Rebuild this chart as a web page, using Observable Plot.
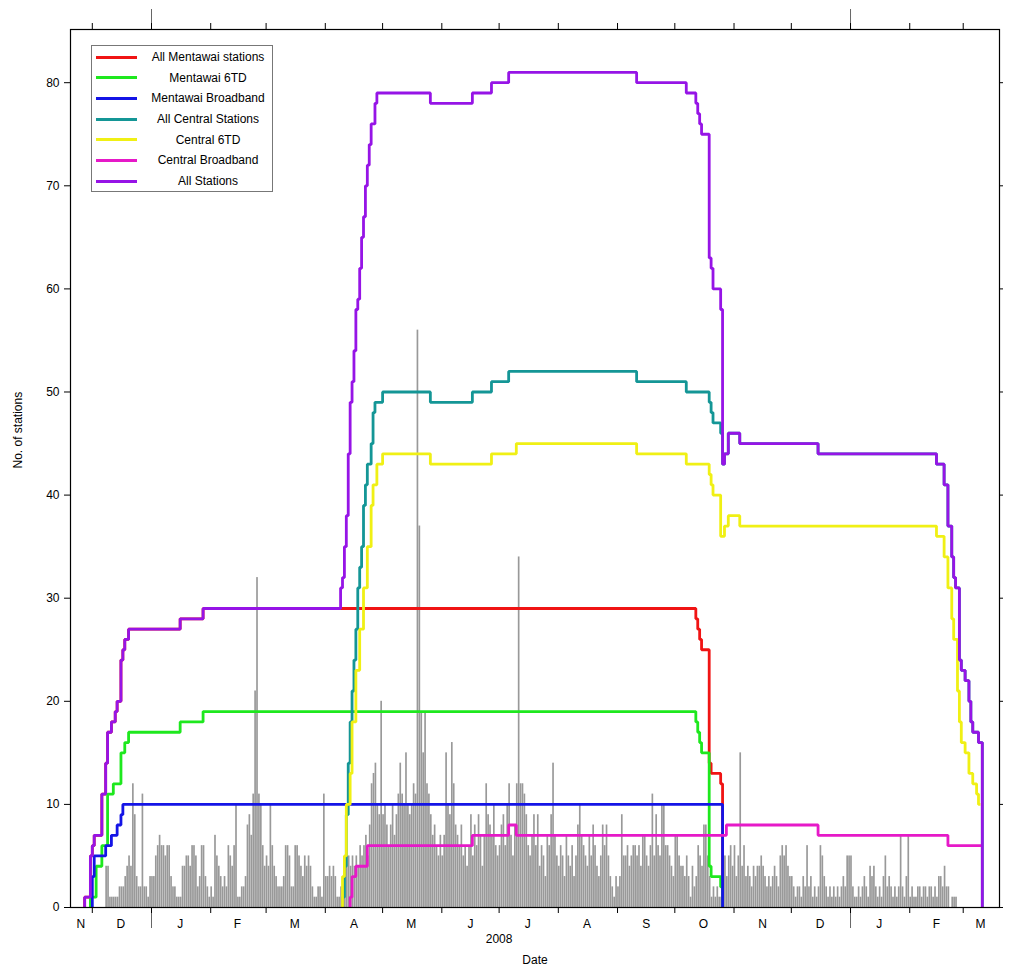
<!DOCTYPE html>
<html><head><meta charset="utf-8">
<script src="https://cdn.jsdelivr.net/npm/d3@7"></script>
<script src="https://cdn.jsdelivr.net/npm/@observablehq/plot@0.6"></script>
<style>
body{margin:0;background:#fff;font-family:"Liberation Sans",Arial,sans-serif;}
#wrap{position:relative;width:1015px;height:968px;}
#legend{position:absolute;left:91px;top:45px;width:182px;height:147px;border:1px solid #777;background:#fff;box-sizing:border-box;}
.row{position:absolute;left:0;width:100%;height:0;}
.sw{position:absolute;left:4px;top:-1.5px;width:41px;height:3px;}
.lab{position:absolute;left:52px;right:0;top:-8px;text-align:center;font-size:12px;line-height:16px;color:#000;white-space:nowrap;}
</style></head><body><div id="wrap"></div>
<script>
// ---- data ----
const seriesNames = ["All Mentawai stations","Mentawai 6TD","Mentawai Broadband","All Central Stations","Central 6TD","Central Broadband","All Stations"];
const seriesColors = ["#f01414","#1ee81e","#1414e6","#149696","#f0f014","#e619c8","#9614e6"];

const mentawaiAllDates = ["2007-11-27","2007-11-27","2007-11-30","2007-12-01","2007-12-02","2007-12-06","2007-12-08","2007-12-09","2007-12-11","2007-12-13","2007-12-14","2007-12-16","2007-12-17","2007-12-18","2007-12-20","2008-01-16","2008-01-28","2008-10-12","2008-10-13","2008-10-14","2008-10-15","2008-10-19","2008-10-20","2008-10-25","2008-10-26"];
const mentawaiAllVals = [0,1,5,6,7,11,14,17,18,19,20,24,25,26,27,28,29,28,27,26,25,14,13,12,0];

const mentawai6tdDates = ["2007-11-30","2007-11-30","2007-12-03","2007-12-06","2007-12-09","2007-12-12","2007-12-16","2007-12-18","2007-12-20","2008-01-16","2008-01-28","2008-10-12","2008-10-13","2008-10-14","2008-10-15","2008-10-19","2008-10-20","2008-10-25","2008-10-26"];
const mentawai6tdVals = [0,1,4,6,11,12,15,16,17,18,19,18,17,16,15,4,3,2,0];

const mentawaiBbDates = ["2007-12-01","2007-12-01","2007-12-02","2007-12-08","2007-12-11","2007-12-14","2007-12-16","2007-12-17","2008-10-26"];
const mentawaiBbVals = [0,3,5,6,7,8,9,10,0];

const centralAllDates = ["2008-04-10","2008-04-10","2008-04-11","2008-04-12","2008-04-13","2008-04-14","2008-04-15","2008-04-16","2008-04-17","2008-04-18","2008-04-19","2008-04-20","2008-04-21","2008-04-22","2008-04-23","2008-04-25","2008-04-26","2008-04-27","2008-05-01","2008-05-26","2008-06-17","2008-06-27","2008-07-06","2008-09-11","2008-10-07","2008-10-19","2008-10-20","2008-10-21","2008-10-25","2008-10-26","2008-10-27","2008-10-29","2008-11-04","2008-12-15","2009-02-15","2009-02-19","2009-02-21","2009-02-23","2009-02-24","2009-02-25","2009-02-27","2009-02-28","2009-03-02","2009-03-04","2009-03-05","2009-03-06","2009-03-09","2009-03-11"];
const centralAllVals = [0,1,4,9,14,18,21,24,27,31,33,35,39,41,43,45,48,49,50,49,50,51,52,51,50,49,48,47,46,43,44,46,45,44,43,41,37,34,32,31,24,23,22,20,18,17,16,0];

const central6tdDates = ["2008-04-10","2008-04-10","2008-04-11","2008-04-12","2008-04-14","2008-04-15","2008-04-17","2008-04-19","2008-04-21","2008-04-23","2008-04-25","2008-04-26","2008-04-28","2008-05-01","2008-05-26","2008-06-27","2008-07-10","2008-09-11","2008-10-07","2008-10-19","2008-10-20","2008-10-21","2008-10-25","2008-10-27","2008-10-29","2008-11-04","2009-02-15","2009-02-19","2009-02-21","2009-02-23","2009-02-24","2009-02-26","2009-02-27","2009-02-28","2009-03-02","2009-03-04","2009-03-06","2009-03-08","2009-03-09","2009-03-10"];
const central6tdVals = [0,3,5,10,13,18,23,27,31,35,39,41,43,44,43,44,45,44,43,42,41,40,36,37,38,37,36,34,31,28,26,21,18,16,15,13,12,11,10,10];

const centralBbDates = ["2008-04-14","2008-04-14","2008-04-15","2008-04-17","2008-04-23","2008-06-17","2008-07-06","2008-07-10","2008-10-28","2008-12-15","2009-02-21","2009-03-11"];
const centralBbVals = [0,1,3,4,6,7,8,7,8,7,6,6];

const allStationsDates = ["2007-11-27","2007-11-27","2007-11-30","2007-12-01","2007-12-02","2007-12-06","2007-12-08","2007-12-09","2007-12-11","2007-12-13","2007-12-14","2007-12-16","2007-12-17","2007-12-18","2007-12-20","2008-01-16","2008-01-28","2008-04-09","2008-04-10","2008-04-11","2008-04-12","2008-04-13","2008-04-14","2008-04-15","2008-04-16","2008-04-17","2008-04-18","2008-04-19","2008-04-20","2008-04-21","2008-04-22","2008-04-23","2008-04-24","2008-04-25","2008-04-27","2008-04-28","2008-05-26","2008-06-17","2008-06-27","2008-07-06","2008-09-11","2008-10-07","2008-10-12","2008-10-13","2008-10-14","2008-10-15","2008-10-19","2008-10-20","2008-10-21","2008-10-25","2008-10-26","2008-10-27","2008-10-29","2008-11-04","2008-12-15","2009-02-15","2009-02-19","2009-02-21","2009-02-23","2009-02-24","2009-02-25","2009-02-27","2009-02-28","2009-03-02","2009-03-04","2009-03-05","2009-03-06","2009-03-09","2009-03-11"];
const allStationsVals = [0,1,5,6,7,11,14,17,18,19,20,24,25,26,27,28,29,31,32,35,38,44,49,51,54,58,59,62,65,67,70,72,74,76,78,79,78,79,80,81,80,79,78,77,76,75,63,62,60,58,43,44,46,45,44,43,41,37,34,32,31,24,23,22,20,18,17,16,0];

// daily grey bars: first bar date, then one value per day
const barStart = "2007-12-08";
const barCounts = [
  4,4,1,1,1,1,1,2,2,2,3,4,5,4,12,9,3,2,2,11,2,2,1,3,                 // Dec 2007 (from 8th)
  3,3,5,6,7,6,6,5,6,6,3,2,2,1,1,1,4,4,5,5,4,6,6,5,2,3,6,6,3,2,1,     // Jan 2008
  2,1,7,5,4,3,2,3,2,6,5,4,6,10,1,1,2,2,3,8,9,7,11,21,32,11,10,6,4,   // Feb
  5,4,10,6,4,3,2,2,2,3,6,6,5,2,2,6,6,5,4,3,5,4,5,4,2,1,1,2,2,1,11,   // Mar
  3,3,4,3,4,3,1,1,2,1,4,5,5,4,5,4,5,4,6,5,6,7,5,8,12,13,14,10,9,20,  // Apr
  9,10,8,6,8,10,7,9,11,14,11,10,15,10,9,10,12,11,56,37,19,15,19,12,11,9,7,8,6,5,7, // May
  5,7,15,10,9,16,12,8,7,6,8,5,6,4,6,9,5,8,6,9,7,4,7,12,9,8,7,10,6,5, // Jun
  6,8,9,6,10,12,7,5,8,12,34,12,12,11,9,6,5,7,9,6,9,4,6,5,3,7,6,9,14,7,5, // Jul
  4,6,5,3,7,5,4,6,3,5,8,10,7,6,5,4,7,5,8,6,4,3,5,8,6,8,5,3,2,1,3,   // Aug
  2,3,9,5,5,6,4,5,6,6,5,6,4,7,7,5,4,6,11,5,9,6,5,10,10,6,6,5,4,3,   // Sep
  7,7,5,4,4,3,5,3,1,4,2,3,6,5,4,8,8,5,3,1,2,1,2,1,1,4,5,3,5,6,4,    // Oct
  6,3,5,15,4,6,3,4,3,2,4,3,4,4,5,4,3,2,3,2,3,4,3,2,5,6,5,6,4,3,     // Nov
  3,2,1,2,2,1,3,2,6,2,3,1,2,1,2,6,5,3,2,1,2,1,2,1,2,1,2,3,2,5,5,    // Dec
  5,2,1,1,2,1,2,3,2,1,4,3,4,2,1,2,1,3,5,2,3,2,1,2,1,2,7,2,1,3,7,    // Jan 2009
  1,2,1,1,2,2,1,2,2,1,2,2,1,2,1,3,3,2,4,2,2,0,1,1,1                 // Feb 2009
];

const yTicks = [0,10,20,30,40,50,60,70,80];
const monthLabels = ["N","D","J","F","M","A","M","J","J","A","S","O","N","D","J","F","M"];
const monthLabelDates = ["2007-11-25","2007-12-16","2008-01-16","2008-02-15","2008-03-16","2008-04-16","2008-05-16","2008-06-16","2008-07-16","2008-08-16","2008-09-16","2008-10-16","2008-11-16","2008-12-16","2009-01-16","2009-02-15","2009-03-10"];
const yearLabel = "2008";
const yearLabelDate = "2008-07-01";
const yearStarts = ["2008-01-01","2009-01-01"];

// ---- build ----
const P = s => new Date(s + "T00:00:00Z");
const series = [
  [mentawaiAllDates, mentawaiAllVals],
  [mentawai6tdDates, mentawai6tdVals],
  [mentawaiBbDates, mentawaiBbVals],
  [centralAllDates, centralAllVals],
  [central6tdDates, central6tdVals],
  [centralBbDates, centralBbVals],
  [allStationsDates, allStationsVals]
].map(([ds, vs]) => ds.map((d, i) => ({date: P(d), value: vs[i]})));

const bars = barCounts.map((c, i) => ({date: d3.utcDay.offset(P(barStart), i), count: c}));
const xDomain = [new Date(Date.UTC(2007,10,19,14)), new Date(Date.UTC(2009,2,20))];
const monthStarts = d3.utcMonth.range(xDomain[0], xDomain[1]);

const chart = Plot.plot({
  width: 1015, height: 968,
  marginLeft: 70, marginRight: 16, marginTop: 29, marginBottom: 61,
  x: {type: "utc", domain: xDomain},
  y: {domain: [0, 85.16]},
  style: {fontFamily: "'Liberation Sans', Arial, sans-serif", fontSize: "12px", background: "white", color: "black", overflow: "visible"},
  marks: [
    Plot.rectY(bars, {x: "date", interval: d3.utcDay, y: "count", fill: "#999999", insetLeft: 0.12, insetRight: 0.12}),
    ...series.map((s, i) => Plot.line(s, {x: "date", y: "value", curve: "step-after", stroke: seriesColors[i], strokeWidth: 2.8, strokeLinejoin: "miter", strokeLinecap: "butt"})),
    Plot.frame({stroke: "black", strokeWidth: 1.2}),
    Plot.axisY({ticks: yTicks, tickSize: 6, tickPadding: 5, label: null}),
    Plot.axisY({anchor: "right", ticks: yTicks, tickSize: 3, text: null, label: null}),
    Plot.axisX({ticks: monthStarts, tickSize: 6, text: null, label: null}),
    Plot.axisX({ticks: yearStarts.map(P), tickSize: 21, text: null, label: null, strokeOpacity: 0.6}),
    Plot.axisX({anchor: "top", ticks: monthStarts, tickSize: 7, text: null, label: null}),
    Plot.axisX({anchor: "top", ticks: yearStarts.map(P), tickSize: 21, text: null, label: null, strokeOpacity: 0.6}),
    Plot.text(monthLabelDates, {x: d => P(d), text: (d, i) => monthLabels[i], frameAnchor: "bottom", dy: 20}),
    Plot.text([yearLabelDate], {x: d => P(d), text: () => yearLabel, frameAnchor: "bottom", dy: 35}),
    Plot.text(["Date"], {text: d => d, frameAnchor: "bottom", dy: 56}),
    Plot.text(["No. of stations"], {text: d => d, frameAnchor: "left", dx: -52, rotate: -90})
  ]
});
const wrap = document.getElementById("wrap");
wrap.appendChild(chart);

// legend
const leg = document.createElement("div");
leg.id = "legend";
seriesNames.forEach((n, i) => {
  const r = document.createElement("div");
  r.className = "row";
  r.style.top = (11 + i * 20.67) + "px";
  r.innerHTML = `<div class="sw" style="background:${seriesColors[i]}"></div><div class="lab">${n}</div>`;
  leg.appendChild(r);
});
wrap.appendChild(leg);
</script></body></html>
